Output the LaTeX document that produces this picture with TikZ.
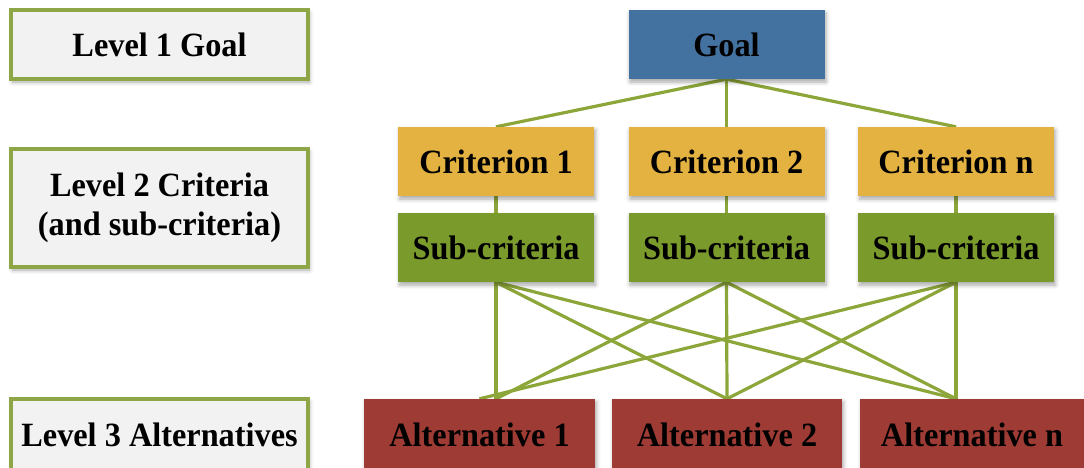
\documentclass[tikz,border=0pt]{standalone}
\usepackage{fontspec}
\setmainfont[FakeStretch=0.95]{Liberation Serif}
\usetikzlibrary{shadows.blur,backgrounds}

\definecolor{levelfill}{HTML}{F2F2F2}
\definecolor{levelrule}{HTML}{8FA646}
\definecolor{goalblue}{HTML}{4371A0}
\definecolor{critgold}{HTML}{E4B241}
\definecolor{subgreen}{HTML}{7A9A2B}
\definecolor{altred}{HTML}{9E3B34}
\definecolor{linkgreen}{HTML}{8CA63A}

\tikzset{
  every node/.style={font=\fontsize{34}{39}\selectfont\bfseries, text=black,
    align=center, inner sep=0pt},
  softshadow/.style={blur shadow={shadow xshift=1.5pt, shadow yshift=-3pt,
    shadow blur radius=4pt, shadow opacity=35}},
  levelbox/.style={draw=levelrule, line width=3.6pt, fill=levelfill, softshadow,
    minimum width=297pt},
  colbox/.style={softshadow, minimum width=196pt, minimum height=69pt},
  goalbox/.style={colbox, fill=goalblue},
  critbox/.style={colbox, fill=critgold},
  subbox/.style={colbox, fill=subgreen},
  altbox/.style={colbox, fill=altred, minimum height=71pt},
  link/.style={draw=linkgreen, line width=3.2pt}
}

\begin{document}
\begin{tikzpicture}[x=1pt, y=-1pt]
\useasboundingbox (0,0) rectangle (1084,468);

% level labels on the left
\node[levelbox, minimum height=69pt]  (lvlgoal) at (159.5,44.5) {Level 1 Goal};
\node[levelbox, minimum height=118pt] (lvlcrit) at (159.5,208)  {Level 2 Criteria\\(and sub-criteria)};
\node[levelbox, minimum height=72pt]  (lvlalt)  at (159.5,435)  {Level 3 Alternatives};

% hierarchy
\node[goalbox] (goal) at (726.5,44.5) {Goal};

\node[critbox] (crit1) at (496,161.5)   {Criterion 1};
\node[critbox] (crit2) at (726.5,161.5) {Criterion 2};
\node[critbox] (critn) at (956,161.5)   {Criterion n};

\node[subbox] (sub1) at (496,247.5)   {Sub-criteria};
\node[subbox] (sub2) at (726.5,247.5) {Sub-criteria};
\node[subbox] (subn) at (956,247.5)   {Sub-criteria};

\node[altbox, minimum width=231pt] (alt1) at (479.5,434.5) {Alternative 1};
\node[altbox, minimum width=230pt] (alt2) at (727,434.5)   {Alternative 2};
\node[altbox, minimum width=224pt] (altn) at (972,434.5)   {Alternative n};

\coordinate (alt1in) at (sub1.south |- alt1.north);
\coordinate (altnin) at (subn.south |- altn.north);

\begin{scope}[on background layer]
  \draw[link] (goal.south) -- (crit1.north);
  \draw[link] (goal.south) -- (crit2.north);
  \draw[link] (goal.south) -- (critn.north);

  \draw[link] (crit1.south) -- (sub1.north);
  \draw[link] (crit2.south) -- (sub2.north);
  \draw[link] (critn.south) -- (subn.north);

  \draw[link] (sub1.south) -- (alt1in);
  \draw[link] (sub1.south) -- (alt2.north);
  \draw[link] (sub1.south) -- (altnin);

  \draw[link] (sub2.south) -- (alt1in);
  \draw[link] (sub2.south) -- (alt2.north);
  \draw[link] (sub2.south) -- (altnin);

  \draw[link] (subn.south) -- (alt1.north);
  \draw[link] (subn.south) -- (alt2.north);
  \draw[link] (subn.south) -- (altnin);
\end{scope}
\end{tikzpicture}
\end{document}
